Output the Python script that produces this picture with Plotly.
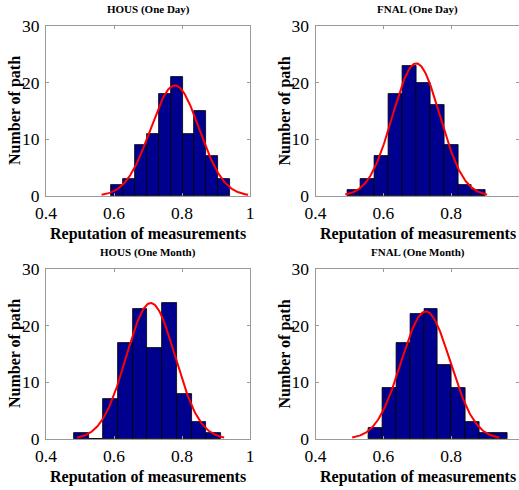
import numpy as np
import plotly.graph_objects as go

# ---- data ----
panel_titles = ["HOUS (One Day)", "FNAL (One Day)", "HOUS (One Month)", "FNAL (One Month)"]

# histogram bins: first bin left edge, bin width, counts
hous_day_start, hous_day_width = 0.591, 0.0351
hous_day_counts = [2, 3, 9, 11, 18, 21, 11, 15, 7, 3]

fnal_day_start, fnal_day_width = 0.493, 0.0409
fnal_day_counts = [1, 3, 7, 18, 23, 20, 16, 9, 2, 1]

hous_month_start, hous_month_width = 0.482, 0.0433
hous_month_counts = [1, 0, 7, 17, 23, 16, 24, 8, 3, 1]

fnal_month_start, fnal_month_width = 0.557, 0.0408
fnal_month_counts = [2, 9, 17, 22, 23, 13, 9, 3, 1, 1]

# fitted normal (histfit) parameters: mean, sigma
hous_day_fit = (0.779, 0.0718)
fnal_day_fit = (0.697, 0.0697)
hous_month_fit = (0.708, 0.0720)
fnal_month_fit = (0.725, 0.0723)

x_ticks = [0.4, 0.6, 0.8, 1.0]
x_tick_text = ["0.4", "0.6", "0.8", "1"]
y_ticks = [0, 10, 20, 30]
y_tick_text = ["0", "10", "20", "30"]

x_title = "Reputation of measurements"
y_title = "Number of path"

panels = [
    (hous_day_start, hous_day_width, hous_day_counts, hous_day_fit),
    (fnal_day_start, fnal_day_width, fnal_day_counts, fnal_day_fit),
    (hous_month_start, hous_month_width, hous_month_counts, hous_month_fit),
    (fnal_month_start, fnal_month_width, fnal_month_counts, fnal_month_fit),
]

# ---- layout geometry (pixels) ----
W, H = 519, 490
x_px = [(46, 250), (315.5, 519)]
y_px = [(26, 196), (269, 439)]
x_domains = [[a / W, b / W] for a, b in x_px]
y_domains = [[1 - b / H, 1 - a / H] for a, b in y_px]

FONT = '"Liberation Serif", "Times New Roman", Times, serif'
BAR_COLOR = "#00008e"
AXIS_COLOR = "#9a9a9a"

fig = go.Figure()
layout = dict(
    width=W, height=H,
    margin=dict(l=0, r=0, t=0, b=0, autoexpand=False),
    paper_bgcolor="white", plot_bgcolor="white",
    showlegend=False,
    font=dict(family=FONT, color="black"),
    bargap=0,
)
annotations = []

for i, (start, width, counts, fit) in enumerate(panels):
    row, col = divmod(i, 2)
    ax = "" if i == 0 else str(i + 1)
    xref, yref = "x" + ax, "y" + ax
    n = len(counts)
    centers = [start + width * (k + 0.5) for k in range(n)]
    fig.add_trace(go.Bar(
        x=centers, y=counts, width=[width] * n,
        marker=dict(color=BAR_COLOR, line=dict(color="black", width=0.8)),
        xaxis=xref, yaxis=yref, hoverinfo="x+y",
    ))
    mu, sd = fit
    total = sum(counts)
    xs = np.linspace(mu - 3 * sd, mu + 3 * sd, 200)
    ys = total * width / (sd * np.sqrt(2 * np.pi)) * np.exp(-0.5 * ((xs - mu) / sd) ** 2)
    fig.add_trace(go.Scatter(
        x=xs, y=ys, mode="lines", line=dict(color="#ff0000", width=2),
        xaxis=xref, yaxis=yref, hoverinfo="skip",
    ))

    common = dict(
        showline=True, mirror="ticks", linecolor=AXIS_COLOR, linewidth=1,
        ticks="inside", ticklen=3, tickcolor=AXIS_COLOR, tickwidth=1,
        showgrid=False, zeroline=False, automargin=False,
        tickfont=dict(family=FONT, size=17.5, color="black"),
    )
    layout["xaxis" + ax] = dict(
        common, domain=x_domains[col], anchor=yref, range=[0.4, 1.0],
        tickvals=x_ticks, ticktext=x_tick_text, ticklabelstandoff=1,
    )
    layout["yaxis" + ax] = dict(
        common, domain=y_domains[row], anchor=xref, range=[0, 30],
        tickvals=y_ticks, ticktext=y_tick_text, ticklabelstandoff=2,
    )
    x0, x1 = x_px[col]
    y0, y1 = y_px[row]
    cx = (46 + 102 + col * 269.5) / W
    # panel title
    annotations.append(dict(
        text="<b>" + panel_titles[i] + "</b>", xref="paper", yref="paper",
        x=cx, y=1 - (y0 - 16.5) / H,
        xanchor="center", yanchor="middle", showarrow=False,
        font=dict(family=FONT, size=11, color="black"),
    ))
    # x axis title
    annotations.append(dict(
        text="<b>" + x_title + "</b>", xref="paper", yref="paper",
        x=cx, y=1 - (y1 + 38) / H,
        xanchor="center", yanchor="middle", showarrow=False,
        font=dict(family=FONT, size=16, color="black"),
    ))
    # y axis title
    annotations.append(dict(
        text="<b>" + y_title + "</b>", xref="paper", yref="paper",
        x=(x0 - 31) / W, y=1 - ((y0 + y1) / 2) / H, textangle=-90,
        xanchor="center", yanchor="middle", showarrow=False,
        font=dict(family=FONT, size=16, color="black"),
    ))

layout["annotations"] = annotations
fig.update_layout(**layout)
fig.write_html("out.html", config={"displayModeBar": False},
               post_script="document.body.style.margin='0px';")
